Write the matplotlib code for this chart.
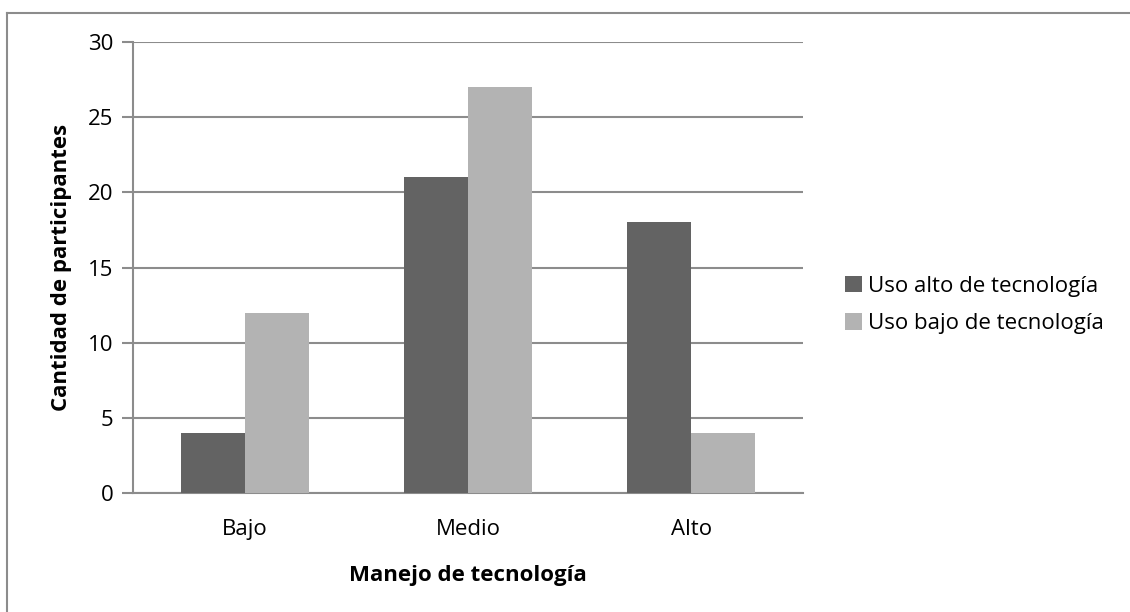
import numpy as np
import matplotlib.pyplot as plt
from matplotlib.lines import Line2D

# Data
categories = ['Bajo', 'Medio', 'Alto']
series_names = ['Uso alto de tecnología', 'Uso bajo de tecnología']
uso_alto = [4, 21, 18]
uso_bajo = [12, 27, 4]
yticks = [0, 5, 10, 15, 20, 25, 30]

# Styles
dark_col = '#636363'
light_col = '#b3b3b3'
grid_col = '#8c8c8c'
font = 'Open Sans'
fs = 16

W, H = 1130, 612
fig = plt.figure(figsize=(W / 100, H / 100), dpi=100)
plt.rcParams['font.family'] = [font, 'DejaVu Sans']

# plot area in pixels: x 133-803, y 42-493
ax = fig.add_axes([133 / W, 1 - 493 / H, (803 - 133) / W, (493 - 42) / H])

x = np.arange(len(categories))
bw = 0.287
ax.bar(x - bw / 2, uso_alto, width=bw, color=dark_col, label=series_names[0], zorder=3)
ax.bar(x + bw / 2, uso_bajo, width=bw, color=light_col, label=series_names[1], zorder=3)

ax.set_xlim(-0.5, len(categories) - 0.5)
ax.set_ylim(0, 30)
ax.set_yticks(yticks)
ax.set_xticks(x)
ax.set_xticklabels(categories, fontsize=fs)
ax.tick_params(axis='y', length=8, width=1.5, color=grid_col, labelsize=fs, pad=6)
ax.tick_params(axis='x', length=0, labelsize=fs, pad=19)
ax.yaxis.grid(True, color=grid_col, linewidth=1.5, zorder=0)
ax.set_axisbelow(True)
for side in ['top', 'right']:
    ax.spines[side].set_visible(False)
ax.spines['left'].set_color(grid_col)
ax.spines['left'].set_linewidth(1.5)
ax.spines['bottom'].set_color(grid_col)
ax.spines['bottom'].set_linewidth(1.5)

ax.set_ylabel('Cantidad de participantes', fontsize=fs, fontweight='bold', va='center')
ax.set_xlabel('Manejo de tecnología', fontsize=fs, fontweight='bold', va='center')
ax.yaxis.set_label_coords((62 - 133) / 670, 0.5)
ax.xaxis.set_label_coords(0.5, (493 - 575) / 451)

# Legend
fig.legend(loc='center left', bbox_to_anchor=(825 / W, 1 - 305 / H), frameon=False,
           fontsize=fs, handlelength=0.75, handleheight=0.75, handletextpad=0.3,
           labelspacing=0.75)

# Outer chart border (left and top edges visible)
fig.add_artist(Line2D([7 / W, 7 / W], [0, 1 - 13 / H], color='#8c8c8c', linewidth=1.5))
fig.add_artist(Line2D([7 / W, 1], [1 - 13 / H, 1 - 13 / H], color='#8c8c8c', linewidth=1.5))

fig.savefig('out.png', dpi=100, facecolor='w')
